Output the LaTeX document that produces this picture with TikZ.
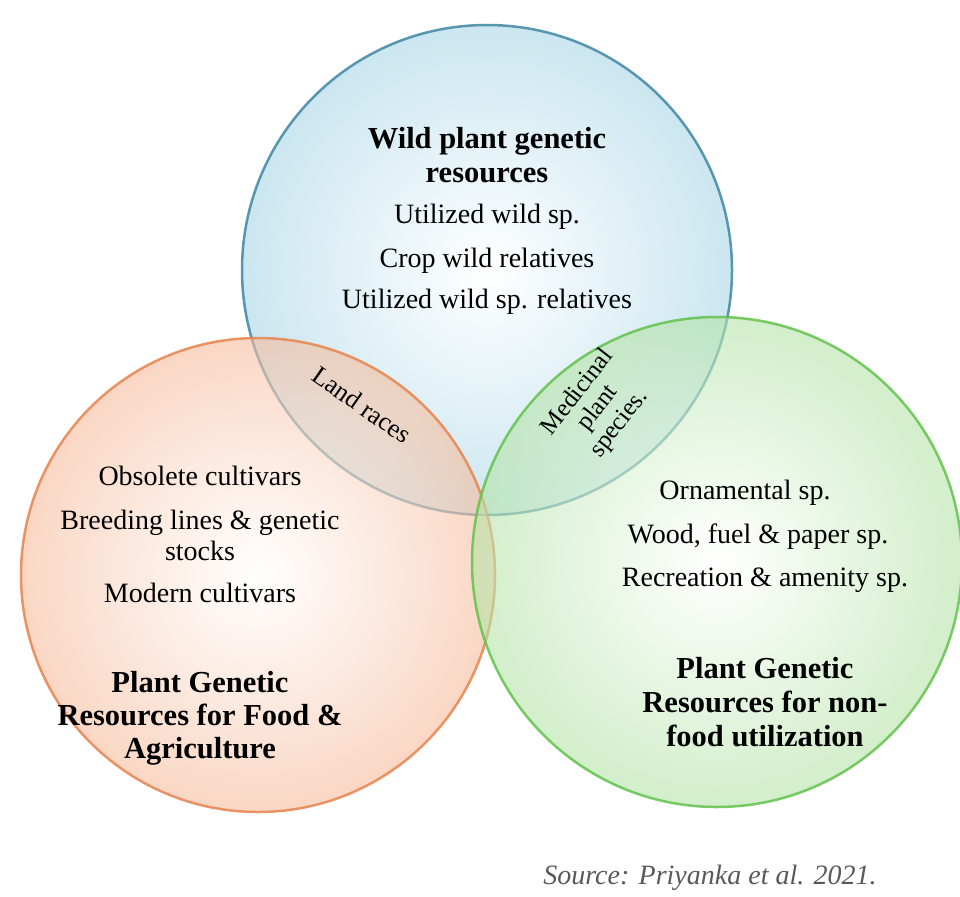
\documentclass[tikz,border=0pt]{standalone}
\usepackage{fontspec}
\setmainfont{Liberation Serif}
\begin{document}
\begin{tikzpicture}[x=1pt,y=-1pt,
  venn/.style={circle,inner sep=0pt,line width=2.5pt,opacity=0.85,fill opacity=0.6},
  txt/.style={font=\fontsize{28}{32}\selectfont,align=center},
  ttl/.style={font=\fontsize{30.5}{34}\selectfont\bfseries,align=center},
  med/.style={font=\fontsize{25}{30}\selectfont,rotate=52,inner sep=1pt}]
\useasboundingbox (0,0) rectangle (960,896);
\definecolor{bE}{HTML}{3F86A3}\definecolor{bF}{HTML}{A8D6E6}
\definecolor{oE}{HTML}{E6844F}\definecolor{oF}{HTML}{F6BC9C}
\definecolor{gE}{HTML}{62C24C}\definecolor{gF}{HTML}{B4E3A6}
\node[venn,draw=bE,inner color=white,outer color=bF,minimum size=490pt] (wild) at (487,270) {};
\node[venn,draw=oE,inner color=white,outer color=oF,minimum size=474pt] (food) at (258,575) {};
\node[venn,draw=gE,inner color=white,outer color=gF,minimum size=490pt] (nonfood) at (717,562) {};
\node[ttl] (t1) at (487,155) {Wild plant genetic\\resources};
\node[txt] (w1) at (487,217) {Utilized wild sp.};
\node[txt] (w2) at (487,261) {Crop wild relatives};
\node[txt] (w3) at (487,302) {Utilized wild sp. relatives};
\node[txt,rotate=-35,font=\fontsize{26}{30}\selectfont] (lr) at (362,405) {Land races};
\node[med] (m1) at (576,391) {Medicinal};
\node[med] (m2) at (598,408) {plant};
\node[med] (m3) at (620,424) {species.};
\node[txt] (f1) at (200,476) {Obsolete cultivars};
\node[txt,font=\fontsize{28}{31}\selectfont] (f2) at (200,535) {Breeding lines \& genetic\\stocks};
\node[txt] (f3) at (200,593) {Modern cultivars};
\node[ttl,font=\fontsize{30.5}{33}\selectfont\bfseries] (t2) at (200,718) {Plant Genetic\\Resources for Food \&\\Agriculture};
\node[txt] (n1) at (745,493) {Ornamental sp.};
\node[txt] (n2) at (758,537) {Wood, fuel \& paper sp.};
\node[txt] (n3) at (765,580) {Recreation \& amenity sp.};
\node[ttl,font=\fontsize{30.5}{34}\selectfont\bfseries] (t3) at (765,702) {Plant Genetic\\Resources for non-\\food utilization};
\node[font=\fontsize{28}{32}\selectfont\itshape,text=black!65] (src) at (710,878) {Source: Priyanka et al. 2021.};
\end{tikzpicture}
\end{document}
